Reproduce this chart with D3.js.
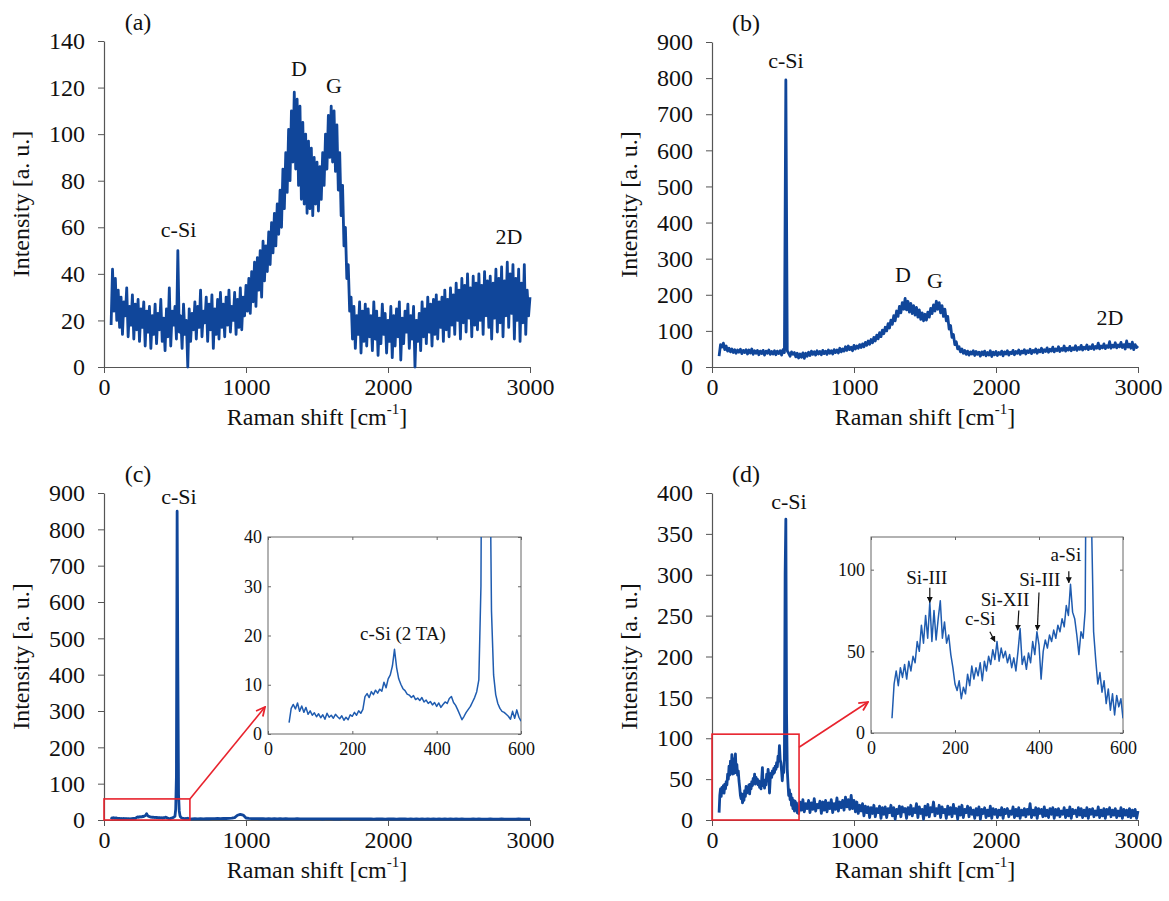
<!DOCTYPE html>
<html lang="en">
<head>
<meta charset="UTF-8">
<title>Raman spectra (a)-(d)</title>
<style>
  body { margin: 0; background: #fff; }
  svg { display: block; }
</style>
<script src="https://d3js.org/d3.v7.min.js"></script>
</head>
<body>
<div id="chart"></div>
<script>
// ---------- data ----------
// tick values
const xTicksMain = [0, 1000, 2000, 3000];
const xTicksInset = [0, 200, 400, 600];
const yTicksA = [0, 20, 40, 60, 80, 100, 120, 140];
const yTicksB = [0, 100, 200, 300, 400, 500, 600, 700, 800, 900];
const yTicksC = [0, 100, 200, 300, 400, 500, 600, 700, 800, 900];
const yTicksD = [0, 50, 100, 150, 200, 250, 300, 350, 400];
const yTicksInsetC = [0, 10, 20, 30, 40];
const yTicksInsetD = [0, 50, 100];

// (a) 50..3000 cm-1, every 10 cm-1
const intensityA = [
  18, 42, 24, 38, 20, 33, 17, 30, 14, 28, 22, 34, 13, 26, 18, 31, 12, 27, 16, 29,
  11, 25, 17, 28, 9, 24, 15, 26, 8, 22, 14, 27, 10, 23, 16, 29, 11, 21, 7, 25,
  13, 34, 9, 24, 18, 26, 12, 50, 15, 22, 8, 27, 14, 20, 0, 25, 11, 23, 16, 28,
  12, 26, 17, 33, 13, 24, 19, 30, 11, 27, 16, 31, 8, 25, 14, 29, 12, 32, 17, 27,
  13, 30, 18, 33, 15, 26, 20, 32, 14, 29, 17, 34, 16, 30, 22, 35, 24, 38, 23, 41,
  28, 45, 26, 47, 33, 50, 30, 54, 37, 52, 41, 58, 44, 62, 49, 66, 52, 70, 57, 76,
  60, 85, 68, 92, 75, 102, 80, 110, 88, 118, 85, 115, 78, 112, 72, 105, 70, 100, 66, 97,
  68, 94, 65, 90, 70, 88, 67, 86, 72, 92, 78, 100, 85, 108, 90, 112, 88, 110, 84, 104,
  76, 92, 65, 78, 52, 60, 38, 44, 24, 30, 12, 26, 8, 22, 14, 28, 6, 24, 11, 27,
  9, 25, 13, 22, 7, 28, 12, 24, 5, 21, 10, 27, 14, 23, 6, 20, 11, 26, 4, 22,
  9, 25, 13, 28, 3, 21, 10, 24, 15, 27, 8, 22, 12, 26, 0, 20, 11, 23, 7, 28,
  13, 25, 10, 30, 15, 27, 9, 29, 14, 31, 12, 28, 17, 30, 11, 33, 16, 29, 13, 34,
  18, 31, 14, 36, 20, 33, 12, 38, 19, 35, 15, 40, 21, 34, 13, 39, 18, 36, 16, 40,
  20, 35, 14, 41, 22, 37, 17, 39, 12, 36, 21, 42, 15, 38, 19, 43, 13, 37, 22, 45,
  17, 40, 23, 44, 12, 38, 20, 42, 11, 36, 19, 44, 14, 33, 22, 30
];

// (b) 50..3000 cm-1, every 10 cm-1
const intensityB = [
  30, 62, 55, 66, 48, 58, 44, 52, 42, 50, 40, 48, 38, 47, 41, 49, 37, 46, 40, 48,
  36, 47, 39, 50, 35, 45, 38, 46, 34, 44, 37, 46, 33, 44, 38, 47, 35, 43, 36, 45,
  34, 44, 37, 45, 33, 48, 40, 795, 45, 38, 30, 42, 35, 40, 28, 38, 25, 36, 27, 39,
  24, 38, 30, 41, 32, 44, 35, 42, 33, 45, 36, 43, 34, 46, 37, 44, 35, 47, 38, 45,
  36, 48, 40, 47, 39, 52, 42, 50, 44, 56, 46, 58, 48, 55, 45, 60, 50, 58, 52, 62,
  54, 64, 56, 68, 60, 72, 63, 76, 67, 82, 72, 88, 78, 95, 84, 102, 92, 110, 100, 120,
  108, 130, 118, 142, 128, 155, 140, 168, 150, 178, 160, 190, 158, 182, 152, 176, 148, 170, 144, 165,
  138, 158, 132, 150, 128, 146, 130, 152, 138, 162, 148, 172, 155, 182, 160, 178, 150, 170, 140, 160,
  128, 140, 105, 115, 82, 90, 62, 70, 50, 56, 42, 50, 38, 46, 35, 44, 33, 42, 36, 45,
  32, 43, 35, 41, 30, 42, 34, 44, 31, 40, 33, 45, 29, 41, 34, 43, 32, 40, 35, 44,
  31, 42, 36, 45, 33, 41, 37, 46, 34, 43, 38, 47, 35, 44, 39, 48, 36, 45, 40, 49,
  37, 46, 41, 50, 38, 47, 42, 52, 40, 48, 43, 53, 41, 49, 44, 55, 42, 50, 45, 56,
  43, 51, 46, 58, 44, 52, 47, 57, 45, 53, 48, 59, 46, 54, 49, 60, 47, 55, 50, 61,
  48, 56, 51, 62, 49, 57, 52, 66, 50, 58, 53, 64, 51, 59, 54, 70, 52, 60, 55, 67,
  53, 61, 56, 68, 54, 62, 50, 72, 55, 63, 52, 69, 48, 62, 54, 58
];

// (c) low range 50..600 cm-1 every 5 cm-1 (also shown in the inset)
const intensityCLow = [
  2.3, 5.2, 6.0, 5.1, 6.3, 4.6, 5.7, 4.4, 5.4, 4.0,
  4.7, 3.8, 4.3, 3.5, 4.1, 3.3, 3.9, 3.0, 4.2, 3.4,
  3.8, 3.2, 4.0, 3.5, 3.1, 3.7, 2.8, 3.4, 2.9, 3.9,
  3.6, 4.4, 3.8, 4.7, 4.2, 5.0, 7.6, 8.2, 7.4, 8.6,
  8.0, 8.9, 8.3, 9.1, 8.7, 10.5, 9.4, 11.2, 12.0, 13.8,
  17.2, 13.5, 11.2, 10.1, 9.2, 8.8, 8.1, 7.9, 7.4, 7.8,
  7.0, 7.3, 6.8, 7.4, 6.5, 6.9, 6.2, 6.6, 5.9, 6.4,
  5.6, 6.3, 5.4, 6.0, 6.5, 6.2, 7.2, 7.6, 6.4, 5.8,
  4.9, 3.9, 2.9, 3.6, 4.4, 5.0, 5.6, 6.5, 7.4, 8.6,
  11, 30, 120, 850, 420, 70, 25, 12, 8, 6.2,
  5.2, 4.6, 4.4, 4.0, 3.6, 3.0, 4.6, 3.2, 4.9, 3.4,
  2.6
];
// (c) high range 620..3000 cm-1 every 20 cm-1
const intensityCHigh = [
  3.0, 3.4, 3.1, 3.6, 3.3, 3.8, 3.5, 4.0, 3.7, 4.2, 4.0, 4.4, 4.1, 4.6, 4.9, 6.5, 13, 15.5, 13.5, 5.5,
  4.2, 3.9, 3.6, 3.8, 3.4, 3.7, 3.3, 3.6, 3.2, 3.5, 3.1, 3.4, 3.2, 3.5, 3.0, 3.3, 3.1, 3.4, 3.0, 3.2,
  3.0, 3.3, 2.9, 3.2, 3.0, 3.3, 2.8, 3.1, 2.9, 3.2, 2.8, 3.0, 2.7, 3.1, 2.9, 3.0, 2.7, 3.0, 2.8, 3.1,
  2.7, 3.0, 2.8, 3.1, 2.6, 2.9, 2.7, 3.0, 2.6, 2.9, 2.8, 3.0, 2.6, 2.8, 2.7, 3.0, 2.5, 2.8, 2.6, 2.9,
  2.6, 2.8, 2.5, 2.9, 2.6, 2.8, 2.5, 2.7, 2.6, 2.9, 2.4, 2.7, 2.5, 2.8, 2.6, 2.7, 2.4, 2.6, 2.5, 2.8,
  2.5, 2.7, 2.4, 2.6, 2.5, 2.8, 2.3, 2.6, 2.5, 2.7, 2.4, 2.6, 2.3, 2.5, 2.4, 2.7, 2.3, 2.5, 2.4, 2.6
];

// (d) low range 50..600 cm-1 every 5 cm-1 (also shown in the inset)
const intensityDLow = [
  9, 30, 38, 29, 40, 34, 42, 33, 44, 38,
  47, 43, 56, 50, 66, 55, 72, 58, 80, 56,
  75, 57, 70, 81, 58, 68, 55, 60, 48, 40,
  30, 26, 32, 21, 28, 24, 36, 29, 41, 33,
  40, 35, 43, 32, 44, 38, 47, 42, 51, 45,
  56, 44, 52, 46, 50, 43, 48, 40, 46, 38,
  50, 64, 42, 47, 39, 49, 43, 56, 48, 62,
  54, 33, 50, 57, 52, 60, 56, 63, 58, 66,
  62, 70, 65, 78, 72, 91, 74, 70, 60, 48,
  62, 58, 75, 300, 368, 130, 62, 45, 30,
  37, 25, 32, 18, 27, 14, 24, 11, 23, 16, 21,
  9
];
// (d) high range 610..3000 cm-1 every 10 cm-1
const intensityDHigh = [
  8, 22, 12, 25, 10, 20, 14, 24, 9, 21, 13, 26, 11, 19, 15, 23, 8, 22, 12, 24,
  10, 21, 14, 25, 9, 20, 13, 27, 11, 22, 15, 24, 12, 28, 16, 25, 13, 30, 14, 24,
  10, 22, 8, 18, 11, 20, 5, 17, 9, 16, 3, 15, 8, 18, 4, 14, 9, 17, 2, 15,
  7, 16, 3, 14, 9, 18, 5, 15, 1, 13, 8, 17, 4, 16, 10, 14, 2, 15, 7, 18,
  5, 14, 9, 20, 3, 16, 8, 13, 1, 17, 6, 19, 4, 15, 10, 22, 5, 14, 8, 18,
  3, 16, 9, 13, 2, 17, 7, 15, 4, 19, 8, 14, 1, 16, 6, 18, 3, 13, 9, 17,
  4, 15, 7, 12, 2, 14, 6, 16, 1, 13, 8, 15, 3, 12, 5, 17, 2, 14, 7, 13,
  3, 12, 6, 15, 2, 13, 8, 14, 4, 11, 7, 16, 3, 13, 5, 15, 2, 12, 6, 14,
  4, 13, 7, 20, 3, 12, 6, 15, 2, 14, 8, 13, 4, 16, 5, 12, 3, 14, 7, 15,
  2, 13, 6, 14, 4, 11, 7, 15, 3, 12, 5, 16, 2, 13, 8, 12, 4, 15, 6, 14,
  3, 12, 5, 15, 2, 13, 7, 14, 4, 11, 6, 16, 3, 12, 5, 14, 2, 13, 7, 15,
  4, 12, 6, 14, 3, 11, 5, 15, 2, 13, 6, 12, 4, 14, 3, 12, 5, 13, 2, 11
];

// peak labels, in data units (Raman shift, intensity)
const notesA = [
  { text: 'D', x: 1373, y: 128 }, { text: 'G', x: 1620, y: 121 },
  { text: 'c-Si', x: 525, y: 59 }, { text: '2D', x: 2852, y: 56 }
];
const notesB = [
  { text: 'c-Si', x: 521, y: 850 }, { text: 'D', x: 1345, y: 256 },
  { text: 'G', x: 1570, y: 240 }, { text: '2D', x: 2803, y: 138 }
];
const notesC = [{ text: 'c-Si', x: 528, y: 889 }];
const notesD = [{ text: 'c-Si', x: 542, y: 389 }];
const notesInsetC = [{ text: 'c-Si (2 TA)', x: 320, y: 20.5 }];
// inset (d) labels with their arrows (from -> to)
const notesInsetD = [
  { text: 'Si-III', x: 133, y: 95.5, from: [140, 89], to: [140, 80] },
  { text: 'c-Si', x: 260, y: 70, from: [283, 62], to: [295, 56] },
  { text: 'Si-XII', x: 319, y: 82, from: [352, 75], to: [349, 63] },
  { text: 'Si-III', x: 402, y: 94, from: [400, 86], to: [396, 63] },
  { text: 'a-Si', x: 464, y: 109, from: [471, 99], to: [471, 92] }
];

// ---------- helpers ----------
function spectrum(start, step, values) {
  return values.map((v, i) => [start + i * step, v]);
}
const specA = spectrum(50, 10, intensityA);
const specB = spectrum(50, 10, intensityB);
const lowC = spectrum(50, 5, intensityCLow);
const specC = lowC.concat(spectrum(620, 20, intensityCHigh));
const lowD = spectrum(50, 5, intensityDLow);
const specD = lowD.concat(spectrum(610, 10, intensityDHigh));

const W = 1169, H = 901;
const FONT = '"Liberation Serif", "Times New Roman", serif';
const LINE = '#10469a';
const INSET_LINE = '#1f5cb0';
const AXIS = '#555';
const RED = '#e8232d';
const fmt = d3.format('d');

const svg = d3.select('#chart').append('svg')
  .attr('width', W).attr('height', H)
  .style('font-family', FONT);

const defs = svg.append('defs');
defs.append('marker')
  .attr('id', 'redHead').attr('viewBox', '0 0 10 10')
  .attr('refX', 9).attr('refY', 5)
  .attr('markerWidth', 11).attr('markerHeight', 11)
  .attr('markerUnits', 'userSpaceOnUse').attr('orient', 'auto')
  .append('path').attr('d', 'M1,1 L9,5 L1,9')
  .attr('fill', 'none').attr('stroke', RED).attr('stroke-width', 1.6);
defs.append('marker')
  .attr('id', 'blackHead').attr('viewBox', '0 0 10 10')
  .attr('refX', 9).attr('refY', 5)
  .attr('markerWidth', 6).attr('markerHeight', 6)
  .attr('markerUnits', 'userSpaceOnUse').attr('orient', 'auto')
  .append('path').attr('d', 'M0,0 L10,5 L0,10 Z').attr('fill', '#111');

function styleAxis(sel, size) {
  sel.attr('font-family', FONT).attr('font-size', size);
  sel.selectAll('.tick text').attr('fill', '#111');
  sel.selectAll('.tick line').attr('stroke', AXIS);
  sel.select('.domain').attr('stroke', AXIS).attr('stroke-width', 1.2);
}

// main panels
const panels = [
  { tag: '(a)', box: { left: 104, right: 530, top: 41, bottom: 367 }, yMax: 140, yTicks: yTicksA, data: specA, notes: notesA },
  { tag: '(b)', box: { left: 712, right: 1138, top: 42, bottom: 367 }, yMax: 900, yTicks: yTicksB, data: specB, notes: notesB },
  { tag: '(c)', box: { left: 104, right: 530, top: 493, bottom: 820 }, yMax: 900, yTicks: yTicksC, data: specC, notes: notesC },
  { tag: '(d)', box: { left: 712, right: 1138, top: 493, bottom: 820 }, yMax: 400, yTicks: yTicksD, data: specD, notes: notesD }
];

panels.forEach(p => {
  const b = p.box;
  const x = d3.scaleLinear().domain([0, 3000]).range([b.left, b.right]);
  const y = d3.scaleLinear().domain([0, p.yMax]).range([b.bottom, b.top]);
  p.x = x; p.y = y;
  const g = svg.append('g');

  g.append('g')
    .attr('transform', `translate(0,${b.bottom})`)
    .call(d3.axisBottom(x).tickValues(xTicksMain).tickFormat(fmt).tickSize(6).tickSizeOuter(0).tickPadding(5))
    .call(s => styleAxis(s, 24));

  g.append('g')
    .attr('transform', `translate(${b.left},0)`)
    .call(d3.axisLeft(y).tickValues(p.yTicks).tickFormat(fmt).tickSize(6).tickSizeOuter(0).tickPadding(13))
    .call(s => styleAxis(s, 24));

  g.append('path')
    .datum(p.data)
    .attr('fill', 'none')
    .attr('stroke', LINE)
    .attr('stroke-width', 2.8)
    .attr('stroke-linejoin', 'round')
    .attr('d', d3.line().x(d => x(d[0])).y(d => y(d[1])));

  // axis titles
  const xt = g.append('text')
    .attr('x', (b.left + b.right) / 2).attr('y', b.bottom + 50)
    .attr('text-anchor', 'middle').attr('dominant-baseline', 'central')
    .attr('font-size', 24).attr('fill', '#111');
  xt.append('tspan').text('Raman shift [cm');
  xt.append('tspan').attr('dy', -8).attr('font-size', 15).text('-1');
  xt.append('tspan').attr('dy', 8).text(']');

  g.append('text')
    .attr('transform', `translate(${b.left - 83},${(b.top + b.bottom) / 2}) rotate(-90)`)
    .attr('text-anchor', 'middle').attr('dominant-baseline', 'central')
    .attr('font-size', 24).attr('fill', '#111')
    .text('Intensity [a. u.]');

  g.append('text')
    .attr('x', b.left + 34).attr('y', b.top - 19)
    .attr('text-anchor', 'middle').attr('dominant-baseline', 'central')
    .attr('font-size', 24).attr('fill', '#111')
    .text(p.tag);

  g.selectAll('.note')
    .data(p.notes).enter().append('text')
    .attr('x', d => x(d.x)).attr('y', d => y(d.y))
    .attr('text-anchor', 'middle').attr('dominant-baseline', 'central')
    .attr('font-size', 22).attr('fill', '#111')
    .text(d => d.text);
});

// insets with zoom rectangles
const insets = [
  { host: panels[2], id: 'clipC', box: { left: 268, right: 521, top: 537, bottom: 734 }, yMax: 40, yTicks: yTicksInsetC,
    data: lowC, zoom: [605, 58], arrowFrom: [605, 58], arrowTo: [0, 5.5], notes: notesInsetC },
  { host: panels[3], id: 'clipD', box: { left: 871, right: 1123, top: 537, bottom: 733 }, yMax: 120, yTicks: yTicksInsetD,
    data: lowD, zoom: [613, 105], arrowFrom: [613, 89], arrowTo: [0, 19], notes: notesInsetD }
];

insets.forEach(ins => {
  const b = ins.box;
  const hx = ins.host.x, hy = ins.host.y;
  const x = d3.scaleLinear().domain([0, 600]).range([b.left, b.right]);
  const y = d3.scaleLinear().domain([0, ins.yMax]).range([b.bottom, b.top]);
  const g = svg.append('g');

  // red zoom box on the host panel
  g.append('rect')
    .attr('x', hx(0)).attr('y', hy(ins.zoom[1]))
    .attr('width', hx(ins.zoom[0]) - hx(0)).attr('height', hy(0) - hy(ins.zoom[1]))
    .attr('fill', 'none').attr('stroke', RED).attr('stroke-width', 1.6);
  g.append('line')
    .attr('x1', hx(ins.arrowFrom[0])).attr('y1', hy(ins.arrowFrom[1]))
    .attr('x2', x(ins.arrowTo[0]) - 3).attr('y2', y(ins.arrowTo[1]))
    .attr('stroke', RED).attr('stroke-width', 1.6)
    .attr('marker-end', 'url(#redHead)');

  g.append('rect')
    .attr('x', b.left).attr('y', b.top)
    .attr('width', b.right - b.left).attr('height', b.bottom - b.top)
    .attr('fill', '#fff').attr('stroke', '#666').attr('stroke-width', 1);

  const inner = (sel) => {
    sel.attr('font-family', FONT).attr('font-size', 18);
    sel.select('.domain').remove();
    sel.selectAll('.tick line').attr('stroke', '#666');
    sel.selectAll('.tick text').attr('fill', '#111');
  };
  g.append('g').attr('transform', `translate(0,${b.bottom})`)
    .call(d3.axisBottom(x).tickValues(xTicksInset).tickFormat(fmt).tickSize(-3).tickPadding(8)).call(inner);
  g.append('g').attr('transform', `translate(0,${b.top})`)
    .call(d3.axisTop(x).tickValues(xTicksInset).tickSize(-3).tickFormat('')).call(inner);
  g.append('g').attr('transform', `translate(${b.left},0)`)
    .call(d3.axisLeft(y).tickValues(ins.yTicks).tickFormat(fmt).tickSize(-3).tickPadding(6)).call(inner);
  g.append('g').attr('transform', `translate(${b.right},0)`)
    .call(d3.axisRight(y).tickValues(ins.yTicks).tickSize(-3).tickFormat('')).call(inner);

  defs.append('clipPath').attr('id', ins.id)
    .append('rect').attr('x', b.left).attr('y', b.top)
    .attr('width', b.right - b.left).attr('height', b.bottom - b.top);

  g.append('path')
    .datum(ins.data)
    .attr('clip-path', `url(#${ins.id})`)
    .attr('fill', 'none')
    .attr('stroke', INSET_LINE)
    .attr('stroke-width', 1.5)
    .attr('stroke-linejoin', 'round')
    .attr('d', d3.line().x(d => x(d[0])).y(d => y(d[1])));

  g.selectAll('.inote')
    .data(ins.notes).enter().append('text')
    .attr('x', d => x(d.x)).attr('y', d => y(d.y))
    .attr('text-anchor', 'middle').attr('dominant-baseline', 'central')
    .attr('font-size', 19).attr('fill', '#111')
    .text(d => d.text);

  g.selectAll('.iarrow')
    .data(ins.notes.filter(d => d.from)).enter().append('line')
    .attr('x1', d => x(d.from[0])).attr('y1', d => y(d.from[1]))
    .attr('x2', d => x(d.to[0])).attr('y2', d => y(d.to[1]))
    .attr('stroke', '#111').attr('stroke-width', 1.2)
    .attr('marker-end', 'url(#blackHead)');
});
</script>
</body>
</html>
